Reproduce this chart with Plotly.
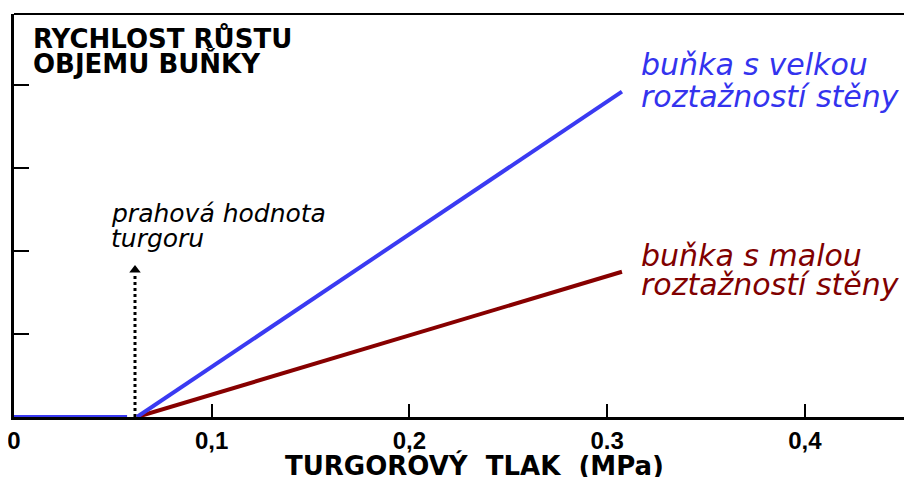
import plotly.graph_objects as go

# ---- data ----
x_ticks = [0, 0.1, 0.2, 0.3, 0.4]
x_tick_labels = ["0", "0,1", "0,2", "0.3", "0,4"]
y_ticks = [1, 2, 3, 4]

threshold = 0.0622          # prahová hodnota turgoru (MPa)
flat_x = [0, 0.0572]        # below threshold: no growth
flat_y = [0, 0]
high_x = [threshold, 0.3075]  # velká roztažnost stěny
high_y = [0, 3.92]
low_x = [threshold, 0.3075]   # malá roztažnost stěny
low_y = [0, 1.75]
arrow_x = [0.0612, 0.0612]
arrow_y = [0, 1.72]
arrow_tip = 1.77

# page is rendered with the browser's default 8px body margin
OFF = 8
PAGE_W, PAGE_H = 912, 477
W, H = PAGE_W - OFF, PAGE_H - OFF
L, R, T, B = 14 - OFF, 0, 14 - OFF, 60
PW, PH = W - L - R, H - T - B

def px(xp):  # page pixel -> paper x
    return (xp - OFF - L) / PW

def py(yp):  # page pixel -> paper y
    return (H - B - (yp - OFF)) / PH

BLUE = "#3a3af2"
DRED = "#870000"

fig = go.Figure()
fig.add_trace(go.Scatter(x=flat_x, y=flat_y, mode="lines",
                         line=dict(color=BLUE, width=4), hoverinfo="skip"))
fig.add_trace(go.Scatter(x=arrow_x, y=arrow_y, mode="lines",
                         line=dict(color="black", width=3, dash="dot"), hoverinfo="skip"))
fig.add_trace(go.Scatter(x=[arrow_x[0]], y=[arrow_tip], mode="markers",
                         marker=dict(symbol="triangle-up", size=10, color="black"), hoverinfo="skip"))
fig.add_trace(go.Scatter(x=low_x, y=low_y, mode="lines",
                         line=dict(color=DRED, width=4), hoverinfo="skip"))
fig.add_trace(go.Scatter(x=high_x, y=high_y, mode="lines",
                         line=dict(color=BLUE, width=4), hoverinfo="skip"))

bold = dict(family="DejaVu Sans", weight="bold", color="black")
ital = dict(family="DejaVu Sans", style="italic")

def ann(text, xp, yp, font):
    fig.add_annotation(text=text, x=px(xp), y=py(yp), xref="paper", yref="paper",
                       xanchor="left", yanchor="middle", showarrow=False,
                       borderpad=0, font=font)

ann("RYCHLOST RŮSTU", 32, 38, dict(bold, size=26))
ann("OBJEMU BUŇKY", 32, 64, dict(bold, size=26))
ann("buňka s velkou", 640, 65, dict(ital, size=30, color="#3333ee"))
ann("roztažností stěny", 640, 97, dict(ital, size=30, color="#3333ee"))
ann("buňka s malou", 640, 255, dict(ital, size=30, color="#800000"))
ann("roztažností stěny", 640, 284, dict(ital, size=30, color="#800000"))
ann("prahová hodnota", 110, 213, dict(ital, size=25, color="black"))
ann("turgoru", 110, 238, dict(ital, size=25, color="black"))
ann("TURGOROVÝ\u00a0\u00a0TLAK\u00a0\u00a0(MPa)", 284, 465, dict(bold, size=26))

fig.add_shape(type="line", xref="paper", yref="paper", x0=0, x1=1, y0=1, y1=1,
              line=dict(color="black", width=2))

fig.update_xaxes(range=[0, 0.4542], tickvals=x_ticks, ticktext=x_tick_labels,
                 ticks="inside", ticklen=13, tickwidth=2, tickcolor="black",
                 showline=True, linewidth=3, linecolor="black",
                 showgrid=False, zeroline=False, automargin=False,
                 ticklabeloverflow="allow",
                 tickfont=dict(family="Liberation Sans", weight="bold", size=24, color="black"))
fig.update_yaxes(range=[0, 4.855], tickvals=y_ticks, showticklabels=False,
                 ticks="inside", ticklen=15, tickwidth=2, tickcolor="black",
                 showline=True, linewidth=3, linecolor="black",
                 showgrid=False, zeroline=False, automargin=False)

fig.update_layout(width=W, height=H, margin=dict(l=L, r=R, t=T, b=B),
                  plot_bgcolor="white", paper_bgcolor="white", showlegend=False)

fig.write_html("out.html")
